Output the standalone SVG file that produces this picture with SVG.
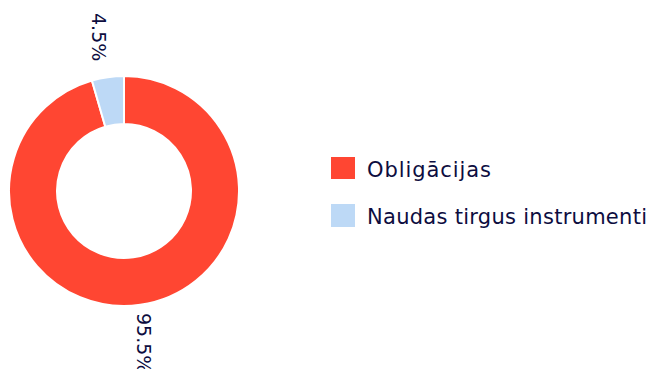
<svg xmlns="http://www.w3.org/2000/svg" width="651" height="369" viewBox="0 0 651 369">
<style>
.seg{stroke:#ffffff;stroke-width:2;stroke-linejoin:round}
.red{fill:#FF4632}
.blue{fill:#BDD9F6}
.lbl{font-family:"DejaVu Sans","Liberation Sans",sans-serif;fill:#0D0D3F}
.pct{font-size:19px}
.leg{font-size:21px}
</style>
<rect width="651" height="369" fill="#ffffff"/>
<g id="chart">
<g id="slice-obligacijas">
<path class="seg red" d="M124 76 A115 115 0 1 1 91.92 80.57 L105.31 126.66 A67 67 0 1 0 124 124 Z"/>
</g>
<g id="slice-naudas">
<path class="seg blue" d="M91.92 80.57 A115 115 0 0 1 124 76 L124 124 A67 67 0 0 0 105.31 126.66 Z"/>
</g>
</g>
<g id="labels">
<text class="lbl pct" transform="translate(92,13) rotate(90)">4.5%</text>
<text class="lbl pct" transform="translate(137,313) rotate(90)">95.5%</text>
</g>
<g id="legend">
<g id="legend-obligacijas">
<rect class="red" x="331" y="157" width="24" height="22"/>
<text class="lbl leg" x="367" y="177" textLength="124">Obligācijas</text>
</g>
<g id="legend-naudas">
<rect class="blue" x="331" y="204" width="24" height="23"/>
<text class="lbl leg" x="367" y="224" textLength="280">Naudas tirgus instrumenti</text>
</g>
</g>
</svg>
